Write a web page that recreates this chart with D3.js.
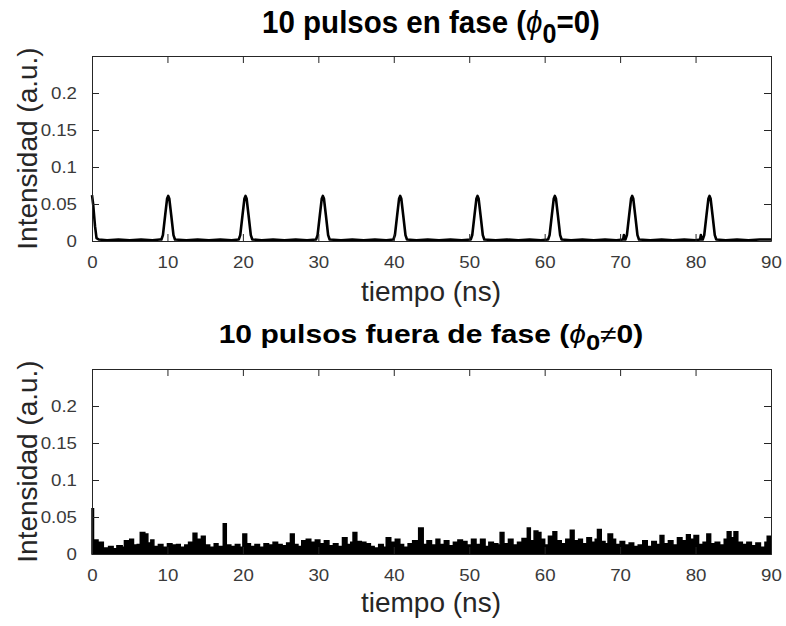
<!DOCTYPE html>
<html>
<head>
<meta charset="utf-8">
<script src="https://cdnjs.cloudflare.com/ajax/libs/d3/7.8.5/d3.min.js"></script>
<style>
    body { margin: 0; background: #fff; }
    text { font-family: "Liberation Sans", Arial, Helvetica, sans-serif; }
</style>
</head>
<body>
<div id="chart"></div>
<script>

// x ticks (ns) and y ticks (a.u.)
let timeTicks = [0, 10, 20, 30, 40, 50, 60, 70, 80, 90];
let intensityTicks = [0, 0.05, 0.1, 0.15, 0.2];

// top panel: pulses in phase, [time (ns), intensity]
let inPhase = [
    [0, 0.062], [0.15, 0.05], [0.4, 0.02], [0.6, 0.004], [0.9, 0.002],
    [2.0, 0.001], [3.5, 0.002], [5.0, 0.001], [6.5, 0.002], [8.0, 0.001], [9.0, 0.002],
    [9.2, 0.002], [9.4, 0.008], [9.7, 0.035], [9.95, 0.057], [10.1, 0.061], [10.25, 0.057], [10.5, 0.035], [10.8, 0.008], [11.0, 0.002],
    [12.5, 0.001], [14.0, 0.002], [15.5, 0.001], [17.0, 0.002], [18.5, 0.001],
    [19.45, 0.002], [19.65, 0.008], [19.95, 0.035], [20.2, 0.057], [20.35, 0.061], [20.5, 0.057], [20.75, 0.035], [21.05, 0.008], [21.25, 0.002],
    [22.5, 0.001], [24.0, 0.002], [25.5, 0.001], [27.0, 0.002], [28.5, 0.001],
    [29.7, 0.002], [29.9, 0.008], [30.2, 0.035], [30.45, 0.057], [30.6, 0.061], [30.75, 0.057], [31.0, 0.035], [31.3, 0.008], [31.5, 0.002],
    [33.0, 0.001], [34.5, 0.002], [36.0, 0.001], [37.5, 0.002], [39.0, 0.001],
    [39.95, 0.002], [40.15, 0.008], [40.45, 0.035], [40.7, 0.057], [40.85, 0.061], [41.0, 0.057], [41.25, 0.035], [41.55, 0.008], [41.75, 0.002],
    [43.0, 0.001], [44.5, 0.002], [46.0, 0.001], [47.5, 0.002], [49.0, 0.001],
    [50.2, 0.002], [50.4, 0.008], [50.7, 0.035], [50.95, 0.057], [51.1, 0.061], [51.25, 0.057], [51.5, 0.035], [51.8, 0.008], [52.0, 0.002],
    [53.5, 0.001], [55.0, 0.002], [56.5, 0.001], [58.0, 0.002], [59.5, 0.001],
    [60.45, 0.002], [60.65, 0.008], [60.95, 0.035], [61.2, 0.057], [61.35, 0.061], [61.5, 0.057], [61.75, 0.035], [62.05, 0.008], [62.25, 0.002],
    [63.5, 0.001], [65.0, 0.002], [66.5, 0.001], [68.0, 0.002], [69.5, 0.001], [70.4, 0.002], [70.5, 0.008], [70.6, 0.002],
    [70.7, 0.002], [70.9, 0.008], [71.2, 0.035], [71.45, 0.057], [71.6, 0.061], [71.75, 0.057], [72.0, 0.035], [72.3, 0.008], [72.5, 0.002],
    [74.0, 0.001], [75.5, 0.002], [77.0, 0.001], [78.5, 0.002], [80.0, 0.001], [80.6, 0.002], [80.7, 0.008], [80.8, 0.002],
    [80.95, 0.002], [81.15, 0.008], [81.45, 0.035], [81.7, 0.057], [81.85, 0.061], [82.0, 0.057], [82.25, 0.035], [82.55, 0.008], [82.75, 0.002],
    [84.0, 0.001], [85.5, 0.002], [87.0, 0.001], [88.5, 0.002], [90.0, 0.002]
];

// bottom panel: pulses out of phase, envelope of the noisy trace [time (ns), intensity]
let outOfPhase = [
    [0, 0.061], [0.2, 0.019], [0.8, 0.016], [1.5, 0.008], [2.2, 0.01], [2.8, 0.007], [3.3, 0.011], [4.0, 0.009],
    [4.3, 0.018], [5.0, 0.02], [5.5, 0.012], [6.0, 0.013], [6.4, 0.029], [7.0, 0.027], [7.4, 0.015], [7.8, 0.019],
    [8.2, 0.01], [8.8, 0.013], [9.4, 0.009], [10.0, 0.014], [10.6, 0.012], [11.2, 0.013], [11.7, 0.009], [12.3, 0.012],
    [12.8, 0.016], [13.4, 0.028], [13.9, 0.02], [14.5, 0.024], [15.0, 0.012], [15.6, 0.009], [16.2, 0.014], [16.7, 0.01],
    [17.4, 0.041], [17.8, 0.012], [18.4, 0.01], [19.0, 0.013], [19.6, 0.009], [20.0, 0.027], [20.5, 0.014], [21.0, 0.01],
    [21.6, 0.013], [22.2, 0.009], [22.8, 0.014], [23.4, 0.012], [24.0, 0.016], [24.6, 0.013], [25.2, 0.011], [25.8, 0.015],
    [26.3, 0.027], [26.8, 0.013], [27.3, 0.01], [27.8, 0.018], [28.4, 0.02], [29.0, 0.016], [29.6, 0.019], [30.2, 0.014],
    [30.8, 0.018], [31.4, 0.011], [32.0, 0.014], [32.6, 0.01], [33.2, 0.022], [33.8, 0.013], [34.3, 0.016], [34.6, 0.029],
    [35.1, 0.017], [35.7, 0.016], [36.3, 0.014], [36.9, 0.01], [37.4, 0.008], [38.0, 0.013], [38.6, 0.009], [39.0, 0.022],
    [39.6, 0.016], [40.2, 0.02], [40.8, 0.013], [41.3, 0.009], [41.9, 0.014], [42.5, 0.018], [43.3, 0.035], [43.9, 0.013],
    [44.4, 0.018], [45.0, 0.012], [45.6, 0.02], [46.1, 0.013], [46.7, 0.018], [47.3, 0.011], [47.9, 0.016], [48.5, 0.019],
    [49.1, 0.017], [49.7, 0.012], [50.3, 0.02], [50.9, 0.013], [51.5, 0.02], [52.1, 0.01], [52.6, 0.016], [53.2, 0.014],
    [53.8, 0.012], [54.1, 0.029], [54.6, 0.014], [55.2, 0.02], [55.8, 0.012], [56.4, 0.016], [57.0, 0.021], [57.7, 0.035],
    [58.1, 0.018], [58.6, 0.031], [59.1, 0.029], [59.5, 0.02], [60.0, 0.012], [60.5, 0.024], [61.1, 0.03], [61.6, 0.018],
    [62.2, 0.014], [62.8, 0.02], [63.4, 0.032], [63.9, 0.018], [64.5, 0.02], [65.0, 0.014], [65.6, 0.022], [66.2, 0.016],
    [66.7, 0.02], [67.0, 0.033], [67.5, 0.017], [68.0, 0.014], [68.4, 0.027], [69.0, 0.02], [69.4, 0.013], [70.0, 0.017],
    [70.6, 0.012], [71.2, 0.015], [71.8, 0.01], [72.4, 0.012], [73.0, 0.018], [73.6, 0.01], [74.2, 0.017], [74.8, 0.013],
    [75.3, 0.025], [75.8, 0.014], [76.4, 0.018], [77.0, 0.012], [77.6, 0.022], [78.2, 0.018], [78.8, 0.026], [79.3, 0.02],
    [79.8, 0.025], [80.4, 0.013], [81.0, 0.016], [81.5, 0.027], [82.0, 0.014], [82.6, 0.016], [83.2, 0.012], [83.8, 0.02],
    [84.2, 0.03], [84.7, 0.022], [85.1, 0.03], [85.6, 0.016], [86.2, 0.013], [86.8, 0.016], [87.4, 0.011], [88.0, 0.015],
    [88.6, 0.009], [89.2, 0.016], [89.5, 0.024], [89.9, 0.012], [90.0, 0.012]
];

let width = 786,
    height = 626,
    axisColor = '#262626';

let svg = d3.select('#chart').append('svg')
    .attr('width', width)
    .attr('height', height);

svg.append('rect')
    .attr('width', width)
    .attr('height', height)
    .attr('fill', '#fff');

let x = d3.scaleLinear()
    .domain([0, 90])
    .range([92, 771]);

// stretch a text horizontally so it spans the given width
function fitWidth(t, w, sy) {
    let bw = t.node().getBBox().width;
    let cx = +t.attr('x'), cy = +t.attr('y');
    t.attr('transform', 'translate(' + cx + ',' + cy + ') scale(' + (w / bw) + ',' + (sy || 1) + ') translate(' + (-cx) + ',' + (-cy) + ')');
}

function panel(top, bottom, opts) {

    let y = d3.scaleLinear()
        .domain([0, 0.25])
        .range([bottom, top]);

    let g = svg.append('g');

    // traces
    if (opts.fill) {
        g.append('path')
            .datum(opts.data)
            .attr('fill', '#000')
            .attr('stroke', '#000')
            .attr('stroke-width', 1.5)
            .attr('d', d3.area()
                .curve(d3.curveStepAfter)
                .x(function(d) { return x(d[0]); })
                .y0(y(0))
                .y1(function(d) { return y(d[1]); }));
    } else {
        g.append('path')
            .datum(opts.data)
            .attr('fill', 'none')
            .attr('stroke', '#000')
            .attr('stroke-width', 2.6)
            .attr('stroke-linejoin', 'round')
            .attr('d', d3.line()
                .x(function(d) { return x(d[0]); })
                .y(function(d) { return y(d[1]); }));
    }

    // axes, ticks pointing inwards on all four sides
    g.append('g')
        .attr('transform', 'translate(0,' + bottom + ')')
        .call(d3.axisBottom(x).tickValues(timeTicks).tickSizeInner(-7).tickSizeOuter(0).tickPadding(15));
    g.append('g')
        .attr('transform', 'translate(0,' + top + ')')
        .call(d3.axisTop(x).tickValues(timeTicks).tickSizeInner(-7).tickSizeOuter(0).tickFormat(''));
    g.append('g')
        .attr('transform', 'translate(92,0)')
        .call(d3.axisLeft(y).tickValues(intensityTicks).tickSizeInner(-7).tickSizeOuter(0).tickPadding(15)
            .tickFormat(function(d) { return d === 0 ? '0' : String(d); }));
    g.append('g')
        .attr('transform', 'translate(771,0)')
        .call(d3.axisRight(y).tickValues(intensityTicks).tickSizeInner(-7).tickSizeOuter(0).tickFormat(''));

    g.selectAll('.domain').attr('stroke', axisColor).attr('stroke-width', 1);
    g.selectAll('.tick line').attr('stroke', axisColor);
    g.selectAll('.tick text')
        .attr('fill', '#3a3a3a')
        .style('font-size', '17px')
        .style('font-family', '"Liberation Sans", Arial, sans-serif');

    // tick labels are a little wider than the font
    g.selectAll('.tick text').each(function() {
        let t = d3.select(this);
        t.attr('transform', 'scale(1.1,1)')
         .attr('x', (+t.attr('x') || 0) / 1.1);
    });

    g.append('text')
        .attr('x', 431)
        .attr('y', opts.xLabelY)
        .attr('text-anchor', 'middle')
        .attr('fill', axisColor)
        .style('font-size', '28px')
        .text('tiempo (ns)');

    g.append('text')
        .attr('transform', 'translate(37,' + ((top + bottom) / 2) + ') rotate(-90)')
        .attr('text-anchor', 'middle')
        .attr('fill', axisColor)
        .style('font-size', '28px')
        .text('Intensidad (a.u.)');

    let title = g.append('text')
        .attr('x', 431)
        .attr('y', opts.titleY)
        .attr('text-anchor', 'middle')
        .attr('fill', '#000')
        .style('font-size', opts.titleSize + 'px')
        .style('font-weight', 'bold');
    title.append('tspan').text(opts.title[0] + ' (');
    title.append('tspan').style('font-style', 'italic').style('font-weight', 'normal').text('\u03d5');
    title.append('tspan').attr('dy', opts.titleSize * 0.3).style('font-size', (opts.titleSize * 0.85) + 'px').text('0');
    title.append('tspan').attr('dy', -opts.titleSize * 0.3).style('font-weight', opts.title[1] === '=' ? 'bold' : 'normal').text(opts.title[1]);
    title.append('tspan').text('0)');
    fitWidth(title, opts.titleWidth, 1);

    return g;
}

panel(56, 241, {
    data: inPhase,
    fill: false,
    xLabelY: 301,
    titleY: 33,
    titleSize: 32,
    titleWidth: 338,
    title: ['10 pulsos en fase', '=']
});

panel(369, 554, {
    data: outOfPhase,
    fill: true,
    xLabelY: 612,
    titleY: 343,
    titleSize: 25,
    titleWidth: 425,
    title: ['10 pulsos fuera de fase', '\u2260']
});

</script>
</body>
</html>
